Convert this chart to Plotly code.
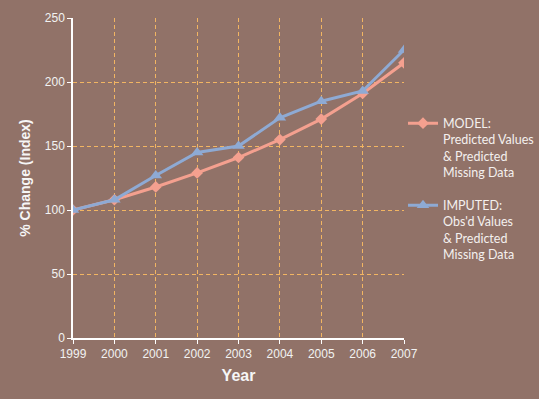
import plotly.graph_objects as go

years = [1999, 2000, 2001, 2002, 2003, 2004, 2005, 2006, 2007]
model_values = [100, 108, 118, 129, 141, 155, 171, 191, 215]
imputed_values = [100, 108, 127, 145, 150, 172, 185, 193, 225]
model_name = "MODEL:<br>Predicted Values<br>& Predicted<br>Missing Data"
imputed_name = "IMPUTED:<br>Obs'd Values<br>& Predicted<br>Missing Data"
y_ticks = [0, 50, 100, 150, 200, 250]

bg = "#917268"
grid = "#f2b562"

fig = go.Figure()
fig.add_trace(go.Scatter(
    x=years, y=model_values, name=model_name, mode="lines+markers",
    legendgroup="model",
    line=dict(color="#f4a08f", width=3),
    marker=dict(symbol="diamond", size=9, color="#f4a08f"),
))
fig.add_trace(go.Scatter(
    x=years, y=imputed_values, name=imputed_name, mode="lines+markers",
    legendgroup="imputed",
    line=dict(color="#8eaad4", width=3),
    marker=dict(symbol="triangle-up", size=11, color="#8eaad4"),
))

fig.update_layout(
    width=539, height=399,
    paper_bgcolor=bg, plot_bgcolor=bg,
    margin=dict(l=73, r=135, t=18, b=61, autoexpand=False),
    showlegend=True,
    legend=dict(
        x=0.997, xanchor="left", y=0.717, yanchor="top",
        bgcolor="rgba(0,0,0,0)",
        font=dict(family="Lato, Open Sans, sans-serif", size=12.5, color="#f4f0ee"),
        valign="top", tracegroupgap=14, itemwidth=30,
    ),
    font=dict(family="Liberation Sans, Arial, sans-serif", color="#f2f2f2"),
)
fig.update_xaxes(
    range=[1999, 2007], tickvals=years, ticktext=[str(y) for y in years],
    showgrid=True, gridcolor=grid, griddash="4px,3px", gridwidth=1,
    showline=True, linecolor="white", linewidth=1.5,
    ticks="outside", ticklen=4, tickcolor="white",
    tickfont=dict(size=12, color="#f2f2f2"),
    title=dict(text="<b>Year</b>", font=dict(size=16, color="#f6f6f6"), standoff=10),
    zeroline=False, automargin=False,
)
fig.update_yaxes(
    range=[0, 250], tickvals=y_ticks,
    showgrid=True, gridcolor=grid, griddash="4px,3px", gridwidth=1,
    showline=True, linecolor="white", linewidth=1.5,
    ticks="outside", ticklen=4, tickcolor="white",
    tickfont=dict(size=12, color="#f2f2f2"),
    title=dict(text="<b>% Change (Index)</b>", font=dict(size=14, color="#f6f6f6"), standoff=11),
    zeroline=False, automargin=False,
)
fig.write_html(
    "out.html",
    config={"displayModeBar": False},
    post_script="document.body.style.margin='0';document.body.style.background='%s';" % bg,
)
